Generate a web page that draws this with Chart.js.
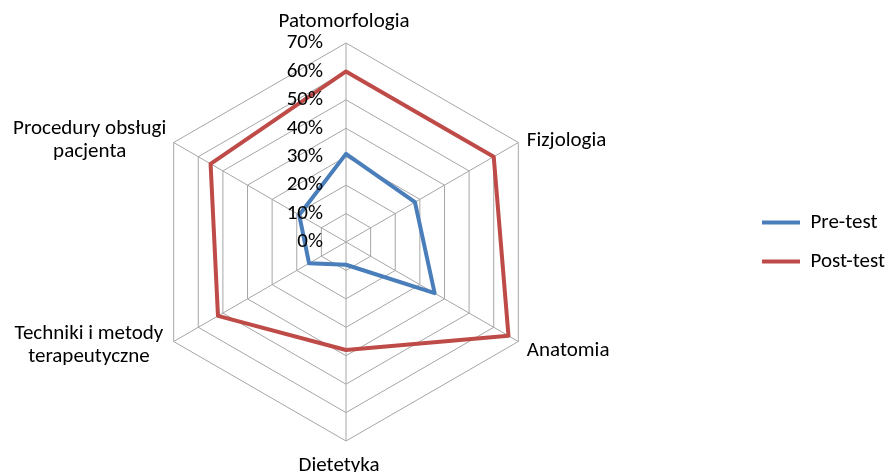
<!DOCTYPE html>
<html><head><meta charset="utf-8">
<script src="https://cdn.jsdelivr.net/npm/chart.js@4/dist/chart.umd.min.js"></script>
<style>html,body{margin:0;padding:0;background:#fff;overflow:hidden}#wrap{width:886px;height:472px;overflow:hidden;position:relative}#c{display:block;position:absolute;top:0}</style>
</head><body><div id="wrap"><canvas id="c"></canvas></div>
<script>
// ---- data ----
const categories = ['Patomorfologia', 'Fizjologia', 'Anatomia', 'Dietetyka', ['Techniki i metody', 'terapeutyczne'], ['Procedury obsługi', 'pacjenta']];
const seriesNames = ['Pre-test', 'Post-test'];
const preTest = [31, 28, 36, 8, 15, 19];
const postTest = [60, 60, 66, 38, 52, 55];
const tickValues = [0, 10, 20, 30, 40, 50, 60, 70];
const tickLabels = ['0%', '10%', '20%', '30%', '40%', '50%', '60%', '70%'];

// ---- style / layout ----
const FAMILY = 'Carlito, Lato, sans-serif';
const BLUE = '#4A7EBB', RED = '#BE4B48', GRID = '#a6a6a6';
const mc = document.createElement('canvas').getContext('2d');
mc.font = '100px ' + FAMILY;
const F = Math.round(2 * 130 * 100 / mc.measureText('Patomorfologia').width) / 2;
mc.font = F + 'px ' + FAMILY;
const LP = 39 - F;               // legend item padding
const BOXW = 38;                 // legend line length
const BOXX = 762;                // legend line start x (page coords)
const CX = 346;                  // radar centre x (page coords)
const tw = Math.max(...seriesNames.map(s => mc.measureText(s).width));
const legendW = LP + BOXW + F / 2 + tw + 10;
const K = Math.round(BOXX - LP - 2 * CX);   // hidden canvas strip on the left
const E = 60;                               // hidden canvas strip on the right
const W = 886 + K + E;
const padR = Math.max(0, 886 + E - BOXX + LP - legendW);

const cv = document.getElementById('c');
cv.width = W; cv.height = 472;
cv.style.width = W + 'px'; cv.style.height = '472px';
cv.style.left = (-K) + 'px';

// per-label placement relative to outer vertex
const labelLayout = [
  {align: 'center', dx: -2, dy: -16.3},
  {align: 'left', dx: 8.5, dy: 3.3},
  {align: 'left', dx: 8.5, dy: 14.3},
  {align: 'center', dx: -7, dy: 30},
  {align: 'center', dx: -84.7, dy: -2.3},
  {align: 'center', dx: -84, dy: -8.4}
];
const LINE_GAP = 23;

const axisText = {
  id: 'axisText',
  afterDatasetsDraw(chart) {
    const s = chart.scales.r, ctx = chart.ctx;
    ctx.save();
    ctx.font = F + 'px ' + FAMILY;
    ctx.fillStyle = '#000';
    ctx.textAlign = 'right';
    ctx.textBaseline = 'middle';
    tickValues.forEach((v, i) => {
      const d = s.getDistanceFromCenterForValue(v);
      ctx.fillText(tickLabels[i], s.xCenter - 23, s.yCenter - d);
    });
    ctx.textBaseline = 'alphabetic';
    categories.forEach((lab, i) => {
      const p = s.getPointPosition(i, s.drawingArea);
      const L = labelLayout[i];
      ctx.textAlign = L.align;
      const lines = Array.isArray(lab) ? lab : [lab];
      lines.forEach((ln, k) => ctx.fillText(ln, p.x + L.dx, p.y + L.dy + k * LINE_GAP));
    });
    ctx.restore();
  }
};

Chart.defaults.font.family = FAMILY;
new Chart(cv, {
  type: 'radar',
  data: {
    labels: categories,
    datasets: [
      {label: seriesNames[0], data: preTest, borderColor: BLUE, backgroundColor: BLUE, borderWidth: 4,
       pointRadius: 0, pointHoverRadius: 0, fill: false, borderJoinStyle: 'round', borderCapStyle: 'round'},
      {label: seriesNames[1], data: postTest, borderColor: RED, backgroundColor: RED, borderWidth: 4,
       pointRadius: 0, pointHoverRadius: 0, fill: false, borderJoinStyle: 'round', borderCapStyle: 'round'}
    ]
  },
  options: {
    responsive: false,
    animation: false,
    events: [],
    layout: {padding: {left: 0, right: padR, top: 43, bottom: 31}},
    plugins: {
      legend: {
        position: 'right',
        labels: {usePointStyle: true, pointStyle: 'line', pointStyleWidth: BOXW, padding: LP,
                 color: '#000', font: {size: F, family: FAMILY}}
      },
      tooltip: {enabled: false}
    },
    scales: {
      r: {
        min: 0, max: 70,
        ticks: {display: false, stepSize: 10},
        grid: {color: GRID, lineWidth: 1},
        angleLines: {color: GRID, lineWidth: 1},
        pointLabels: {display: false}
      }
    }
  },
  plugins: [axisText]
});
</script>
</body></html>
